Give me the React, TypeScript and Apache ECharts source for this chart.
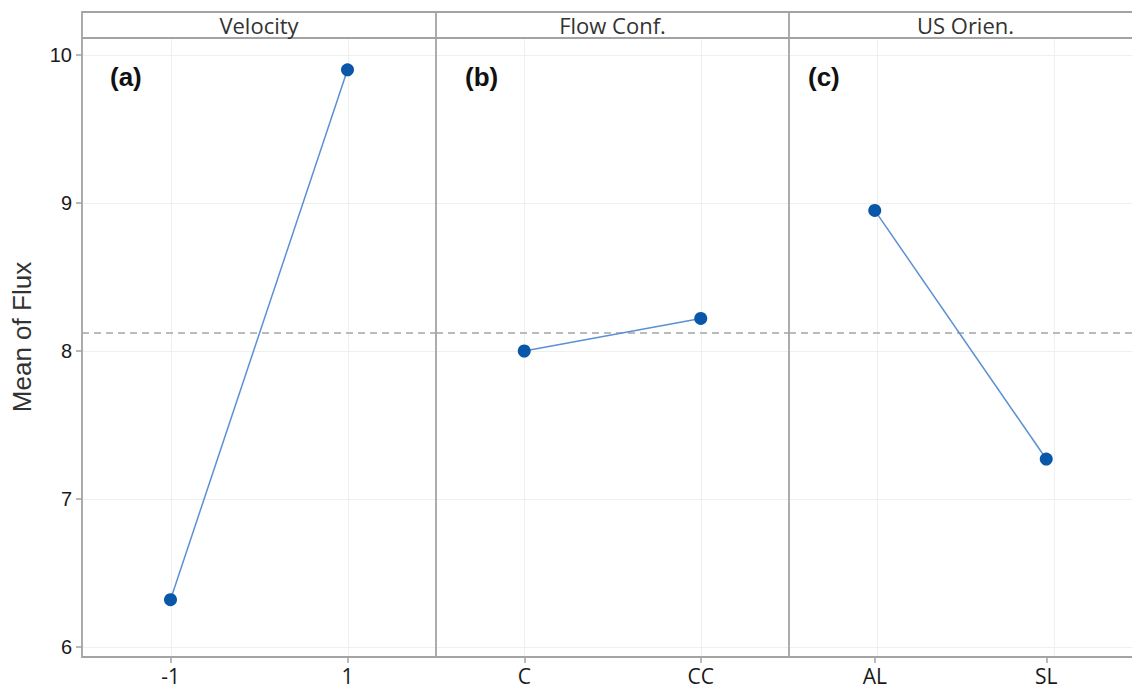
import React, { useEffect, useRef } from "react";
import * as echarts from "echarts";

const panelTitles = ["Velocity", "Flow Conf.", "US Orien."];
const panelTags = ["(a)", "(b)", "(c)"];
const velocityLevels = ["-1", "1"];
const velocityMeans = [6.32, 9.9];
const flowLevels = ["C", "CC"];
const flowMeans = [8.0, 8.22];
const orienLevels = ["AL", "SL"];
const orienMeans = [8.95, 7.27];
const grandMean = 8.115;
const yTicks = [6, 7, 8, 9, 10];
const yAxisTitle = "Mean of Flux";

const FRAME = "#a3a3a3";
const LINE_BLUE = "#5b90d2";
const DOT_BLUE = "#0a56a8";

export default function App() {
  const ref = useRef<HTMLDivElement>(null);
  useEffect(() => {
    if (!ref.current) return;
    const chart = echarts.init(ref.current, undefined, { renderer: "svg" });
    const levels = [velocityLevels, flowLevels, orienLevels];
    const means = [velocityMeans, flowMeans, orienMeans];
    const lefts = [82, 436, 789];
    const widths = [354, 353, 353];
    const tagX = [110, 465, 808];
    const gridTop = 55;
    const gridBottom = 689 - 647;

    const grids = lefts.map((l, i) => ({
      left: l,
      top: gridTop,
      width: widths[i],
      bottom: gridBottom,
      containLabel: false,
    }));

    const xAxes = levels.map((cats, i) => ({
      type: "category",
      gridIndex: i,
      data: cats,
      boundaryGap: true,
      offset: 10,
      axisLine: { show: false },
      axisTick: { show: true, alignWithLabel: true, length: 6, lineStyle: { color: FRAME, width: 1.5 } },
      axisLabel: { color: "#1a1a1a", fontSize: 21, lineHeight: 18, fontFamily: "Open Sans", margin: 10 },
      splitLine: { show: false },
    }));

    const yAxes = levels.map((_, i) => ({
      type: "value",
      gridIndex: i,
      min: yTicks[0],
      max: yTicks[yTicks.length - 1],
      interval: 1,
      axisLine: { show: false },
      axisTick: { show: i === 0, length: 6, lineStyle: { color: FRAME, width: 1.5 } },
      axisLabel: { show: i === 0, color: "#1a1a1a", fontSize: 20, fontFamily: "Liberation Sans", margin: 10 },
      splitLine: { show: true, lineStyle: { color: "#efefef", width: 1 } },
    }));

    const series = means.map((vals, i) => ({
      type: "line",
      xAxisIndex: i,
      yAxisIndex: i,
      data: vals,
      symbol: "circle",
      symbolSize: 13,
      itemStyle: { color: DOT_BLUE },
      lineStyle: { color: LINE_BLUE, width: 1.5 },
      z: 5,
      markLine: {
        silent: true,
        symbol: "none",
        label: { show: false },
        lineStyle: { color: "#bbbbbb", type: [7, 5], width: 1.8 },
        data: [{ yAxis: grandMean }],
        z: 3,
      },
    }));

    const vLines: any[] = [];
    lefts.forEach((l, i) => {
      [0.25, 0.75].forEach((f) => {
        const x = Math.round(l + widths[i] * f) + 0.5;
        vLines.push({
          type: "line",
          shape: { x1: x, y1: 38, x2: x, y2: 657 },
          style: { stroke: "#efefef", lineWidth: 1 },
          z: 0,
        });
      });
    });

    const graphic: any[] = [
      ...vLines,
      {
        type: "rect",
        shape: { x: 82, y: 12, width: 1060, height: 645 },
        style: { fill: "none", stroke: FRAME, lineWidth: 1.8 },
        z: 10,
      },
      {
        type: "line",
        shape: { x1: 82, y1: 38, x2: 1142, y2: 38 },
        style: { stroke: FRAME, lineWidth: 1.8 },
        z: 10,
      },
      ...[436, 789].map((x) => ({
        type: "line",
        shape: { x1: x, y1: 12, x2: x, y2: 657 },
        style: { stroke: FRAME, lineWidth: 1.8 },
        z: 10,
      })),
      ...panelTitles.map((t, i) => ({
        type: "text",
        x: lefts[i] + widths[i] / 2,
        y: 25,
        style: {
          text: t,
          fill: "#333",
          font: "22px 'Open Sans'",
          textAlign: "center",
          textVerticalAlign: "middle",
        },
        z: 11,
      })),
      ...panelTags.map((t, i) => ({
        type: "text",
        x: tagX[i],
        y: 77,
        style: {
          text: t,
          fill: "#111",
          font: "bold 26px 'Liberation Sans'",
          textAlign: "left",
          textVerticalAlign: "middle",
        },
        z: 11,
      })),
      {
        type: "text",
        x: 22,
        y: 337,
        rotation: Math.PI / 2,
        style: {
          text: yAxisTitle,
          fill: "#333",
          font: "26px 'Liberation Sans'",
          textAlign: "center",
          textVerticalAlign: "middle",
        },
        z: 11,
      },
    ];

    chart.setOption({
      animation: false,
      backgroundColor: "#ffffff",
      grid: grids,
      xAxis: xAxes,
      yAxis: yAxes,
      series,
      graphic,
    } as any);
    return () => chart.dispose();
  }, []);
  return <div ref={ref} style={{ width: 1132, height: 689, position: "absolute", left: 0, top: 0 }} />;
}
